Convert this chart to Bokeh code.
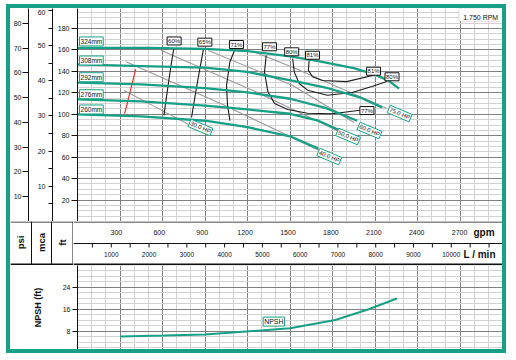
import math
from bokeh.plotting import figure
from bokeh.models import Range1d, LinearAxis, FixedTicker, Label, BoxAnnotation
from bokeh.layouts import column, row
from bokeh.core.properties import value
from bokeh.embed import file_html
from bokeh.resources import INLINE

TEAL = "#17a086"
FONT = "Liberation Sans"
INK = "#111111"

# ---------------- data (flow in gpm, head in ft) ----------------
impeller_names = ["324mm", "308mm", "292mm", "276mm", "260mm"]
flow_324 = [0, 500, 900, 1200, 1500, 1700, 1950, 2100, 2200, 2270]
head_324 = [162, 162, 161, 159, 154, 149.5, 143, 137, 131, 124]
flow_308 = [0, 450, 900, 1200, 1550, 1750, 2000, 2150]
head_308 = [146.5, 145, 143.5, 139.5, 130.5, 125, 115.5, 106.5]
flow_292 = [0, 450, 900, 1200, 1500, 1750, 1975]
head_292 = [129.5, 128, 124.5, 120.5, 114.5, 106, 94]
flow_276 = [0, 450, 900, 1200, 1500, 1700, 1850]
head_276 = [114, 112, 108, 104.5, 100.5, 94, 85]
flow_260 = [0, 450, 900, 1200, 1500, 1700]
head_260 = [100, 98, 94, 88, 79.5, 68]
impeller_label_flow = [98, 98, 98, 98, 98]
impeller_label_head = [168, 150.2, 134.6, 118.7, 104.5]

# efficiency iso-lines
eff_60_flow = [680, 662, 645, 628, 610]
eff_60_head = [161.5, 147, 132, 116, 99]
eff_65_flow = [890, 870, 848, 826, 805]
eff_65_head = [161.5, 147, 131, 114, 97]
eff_71_flow = [1111, 1076, 1052, 1059, 1076]
eff_71_head = [160.5, 149, 127, 108.5, 94]
eff_77_flow = [1332, 1320, 1344, 1391, 1484, 1624, 1799, 1994]
eff_77_head = [155, 139.6, 121, 110, 104.5, 101, 100.5, 103.8]
eff_80_flow = [1519, 1530, 1565, 1624, 1764, 1939, 2078, 2183]
eff_80_head = [152, 139.6, 128.7, 122.5, 117.8, 120.3, 125.9, 130.6]
eff_81_flow = [1635, 1630, 1659, 1728, 1900, 2090]
eff_81_head = [150.5, 141, 135, 131.5, 130.5, 136.5]
eff_labels = ["60%", "65%", "71%", "77%", "80%", "81%", "81%", "80%", "77%"]
eff_label_flow = [682, 899, 1122, 1355, 1512, 1659, 2090, 2220, 2043]
eff_label_head = [168.4, 167.3, 165.1, 163, 158.3, 155.1, 140.2, 135, 103.5]

# power lines
hp_30_flow = [329, 562, 798]
hp_30_head = [122.2, 106, 89.6]
hp_40_flow = [343, 1029, 1707]
hp_40_head = [149, 109, 66.2]
hp_50_flow = [588, 1239, 1833]
hp_50_head = [159.8, 122.2, 84.9]
hp_60_flow = [924, 1519, 1952]
hp_60_head = [159.5, 126.9, 92.4]
hp_75_flow = [1239, 1519, 2183]
hp_75_head = [158.6, 143.9, 105.4]
hp_labels = ["30.0 HP", "40.0 HP", "50.0 HP", "60.0 HP", "75.0 HP"]
hp_label_flow = [868, 1777, 1910, 2061, 2274]
hp_label_head = [87.7, 60.6, 79.3, 84.9, 100.7]

# minimum flow (red)
min_flow_flow = [333, 411]
min_flow_head = [100.7, 142.1]

# NPSH required
npsh_flow = [300, 610, 900, 1190, 1500, 1820, 2055, 2255]
npsh_head = [6.1, 6.4, 6.8, 7.9, 9.1, 12.1, 16.0, 19.9]

# axes / ticks
gpm_ticks = [300, 600, 900, 1200, 1500, 1800, 2100, 2400, 2700]
lpm_ticks = [1000, 2000, 3000, 4000, 5000, 6000, 7000, 8000, 9000, 10000]
lpm_minor = [v * 500 for v in range(1, 23)]
ft_ticks = [20, 40, 60, 80, 100, 120, 140, 160, 180]
mca_ticks = [5, 10, 15, 20, 25, 30, 35, 40, 45, 50, 55, 60]
psi_ticks = [10, 20, 30, 40, 50, 60, 70, 80]
npsh_ticks = [8, 16, 24]
GPM_PER_LPM = 1 / 3.78541

X_MAX = 3000
H_MAX = 198.7
W = 492
LEFT = 63
MAIN_H = 213
STRIP_H = 44
NPSH_H = 84
MAJOR = "#808080"
MINOR = "#d2d2d2"

x_range = Range1d(0, X_MAX)

# ---------------- main pump curve panel ----------------
p = figure(width=W, height=MAIN_H, x_range=x_range, y_range=Range1d(0, H_MAX),
           output_backend="svg", toolbar_location=None,
           min_border_left=LEFT, min_border_right=0, min_border_top=0,
           min_border_bottom=0, background_fill_color="white",
           border_fill_color="white", outline_line_color=None)
p.xaxis.visible = False
p.xgrid.ticker = FixedTicker(ticks=list(range(300, 3001, 300)),
                             minor_ticks=list(range(0, 3001, 100)))
p.ygrid.ticker = FixedTicker(ticks=list(range(20, 200, 20)),
                             minor_ticks=list(range(0, 200, 5)))
for g in (p.xgrid, p.ygrid):
    g.grid_line_color = MAJOR
    g.minor_grid_line_color = MINOR


def style_axis(ax, size="7px"):
    ax.major_label_text_font = FONT
    ax.major_label_text_font_size = size
    ax.major_label_text_color = INK
    ax.axis_line_color = INK
    ax.major_tick_line_color = INK
    ax.minor_tick_in = 0
    ax.minor_tick_out = 0
    ax.major_tick_in = 0


ft_ax = p.yaxis[0]
ft_ax.ticker = FixedTicker(ticks=ft_ticks)
style_axis(ft_ax)
ft_ax.major_tick_out = 6
ft_ax.major_label_standoff = 2
ft_ax.major_label_overrides = {180: "\u00a0180"}

p.extra_y_ranges = {"mca": Range1d(0, H_MAX / 3.281), "psi": Range1d(0, H_MAX / 2.31)}
mca_ax = LinearAxis(y_range_name="mca", ticker=FixedTicker(ticks=mca_ticks))
style_axis(mca_ax)
mca_ax.major_tick_out = 4
mca_ax.major_label_standoff = 3
mca_ax.major_label_overrides = {t: ("" if t % 10 else str(t)) for t in mca_ticks}
mca_ax.major_label_overrides[60] = "\u00a0\u00a0\u00a060"
p.add_layout(mca_ax, "left")

psi_ax = LinearAxis(y_range_name="psi", ticker=FixedTicker(ticks=psi_ticks))
style_axis(psi_ax)
psi_ax.major_tick_out = 6
psi_ax.major_label_standoff = 1
p.add_layout(psi_ax, "left")

for fl, hd in [(hp_30_flow, hp_30_head), (hp_40_flow, hp_40_head), (hp_50_flow, hp_50_head),
               (hp_60_flow, hp_60_head), (hp_75_flow, hp_75_head)]:
    p.line(fl, hd, line_color="#9a9a9a", line_width=1.1)

p.line(min_flow_flow, min_flow_head, line_color="#e8322c", line_width=1.2)

for fl, hd in [(eff_60_flow, eff_60_head), (eff_65_flow, eff_65_head), (eff_71_flow, eff_71_head),
               (eff_77_flow, eff_77_head), (eff_80_flow, eff_80_head), (eff_81_flow, eff_81_head)]:
    p.line(fl, hd, line_color="#1a1a1a", line_width=1.1)

for fl, hd in [(flow_324, head_324), (flow_308, head_308), (flow_292, head_292),
               (flow_276, head_276), (flow_260, head_260)]:
    p.line(fl, hd, line_color=TEAL, line_width=2.3)

p.text(x=impeller_label_flow, y=impeller_label_head, text=impeller_names,
       text_font=value(FONT), text_font_size=value("6.5px"), text_align="center",
       text_baseline="middle", text_color=INK, background_fill_color="white",
       border_line_color=TEAL, border_line_width=1, padding=1)
p.text(x=eff_label_flow, y=eff_label_head, text=eff_labels,
       text_font=value(FONT), text_font_size=value("6px"), text_align="center",
       text_baseline="middle", text_color=INK, background_fill_color="white",
       border_line_color=INK, border_line_width=1, padding=1)
p.text(x=hp_label_flow, y=hp_label_head, text=hp_labels, angle=-0.40,
       text_font=value(FONT), text_font_size=value("6px"), text_align="center",
       text_baseline="middle", text_color=INK, background_fill_color="white",
       border_line_color=TEAL, border_line_width=1, padding=1)

p.add_layout(BoxAnnotation(left=2692, right=X_MAX, bottom=186.8, top=H_MAX,
                           fill_color="white", fill_alpha=1, line_color="#999999",
                           line_width=1))
p.add_layout(Label(x=2846, y=190.6, text="1.750 RPM", text_font=FONT,
                   text_font_size="7px", text_align="center", text_baseline="middle",
                   text_color=INK))

# ---------------- unit strip: left cells ----------------
def bare(fig):
    fig.xaxis.visible = False
    fig.yaxis.visible = False
    fig.xgrid.visible = False
    fig.ygrid.visible = False
    return fig


cells = bare(figure(width=LEFT, height=STRIP_H, x_range=Range1d(0, LEFT),
                    y_range=Range1d(0, STRIP_H), output_backend="svg",
                    toolbar_location=None, min_border=0, outline_line_color=None))
for cx in (21, 41, 62.5):
    cells.line([cx, cx], [0, STRIP_H], line_color=INK, line_width=1)
cells.line([0, LEFT], [43.5, 43.5], line_color=INK, line_width=1)
cells.line([0, LEFT], [1, 1], line_color=INK, line_width=2)
cells.text(x=[10, 31, 52], y=[23, 23, 23], text=["psi", "mca", "ft"], angle=math.pi / 2,
           text_font=value(FONT), text_font_size=value("9.5px"), text_font_style="bold",
           text_align="center", text_baseline="middle", text_color=INK)

# ---------------- unit strip: gpm and L/min scales ----------------
scale = bare(figure(width=W - LEFT, height=STRIP_H, x_range=x_range,
                    y_range=Range1d(0, STRIP_H), output_backend="svg",
                    toolbar_location=None, min_border=0, outline_line_color=None))
scale.line([0, X_MAX], [43.5, 43.5], line_color=INK, line_width=1)
scale.line([0, X_MAX], [22, 22], line_color=INK, line_width=1)
scale.line([0, X_MAX], [1, 1], line_color=INK, line_width=2)
scale.text(x=gpm_ticks, y=[33] * len(gpm_ticks), text=[str(t) for t in gpm_ticks],
           text_font=value(FONT), text_font_size=value("7px"), text_align="center",
           text_baseline="middle", text_color=INK)
lpm_x = [v * GPM_PER_LPM for v in lpm_minor if v * GPM_PER_LPM < X_MAX]
scale.segment(x0=lpm_x, y0=[22] * len(lpm_x), x1=lpm_x, y1=[18] * len(lpm_x),
              line_color=INK, line_width=1)
scale.text(x=[v * GPM_PER_LPM for v in lpm_ticks], y=[11.5] * len(lpm_ticks),
           text=[str(t) for t in lpm_ticks], text_font=value(FONT),
           text_font_size=value("6.5px"), text_align="center", text_baseline="middle",
           text_color=INK)
scale.text(x=[2797], y=[33], text=["gpm"], text_font=value(FONT),
           text_font_size=value("10px"), text_font_style="bold", text_align="left",
           text_baseline="middle", text_color=INK)
scale.text(x=[2727], y=[11.5], text=["L / min"], text_font=value(FONT),
           text_font_size=value("10px"), text_font_style="bold", text_align="left",
           text_baseline="middle", text_color=INK)

# ---------------- NPSH panel ----------------
q = figure(width=W, height=NPSH_H, x_range=x_range, y_range=Range1d(1.35, 31.9),
           output_backend="svg", toolbar_location=None,
           min_border_left=LEFT, min_border_right=0, min_border_top=0,
           min_border_bottom=0, background_fill_color="white",
           border_fill_color="white", outline_line_color=None)
q.xaxis.visible = False
q.xgrid.ticker = FixedTicker(ticks=list(range(300, 3001, 300)),
                             minor_ticks=list(range(0, 3001, 100)))
q.ygrid.ticker = FixedTicker(ticks=npsh_ticks, minor_ticks=list(range(2, 33, 2)))
for g in (q.xgrid, q.ygrid):
    g.grid_line_color = MAJOR
    g.minor_grid_line_color = MINOR
npsh_ax = q.yaxis[0]
npsh_ax.ticker = FixedTicker(ticks=npsh_ticks)
style_axis(npsh_ax)
npsh_ax.major_tick_out = 5
npsh_ax.major_label_standoff = 2
npsh_ax.axis_label = "NPSH (ft)"
npsh_ax.axis_label_text_font = FONT
npsh_ax.axis_label_text_font_size = "9px"
npsh_ax.axis_label_text_font_style = "bold"
npsh_ax.axis_label_text_color = INK
npsh_ax.axis_label_standoff = 17

q.line(npsh_flow, npsh_head, line_color=TEAL, line_width=2)
q.text(x=[1386], y=[11.5], text=["NPSH"], text_font=value(FONT),
       text_font_size=value("7px"), text_align="center", text_baseline="middle",
       text_color=INK, background_fill_color="white",
       border_line_color=TEAL, border_line_width=1, padding=1)

layout = column(p, row(cells, scale, spacing=0), q, spacing=0,
                styles={"border": f"4px solid {TEAL}", "margin-left": "6px",
                        "margin-top": "4px"})

open("out.html", "w").write(file_html(layout, INLINE))
